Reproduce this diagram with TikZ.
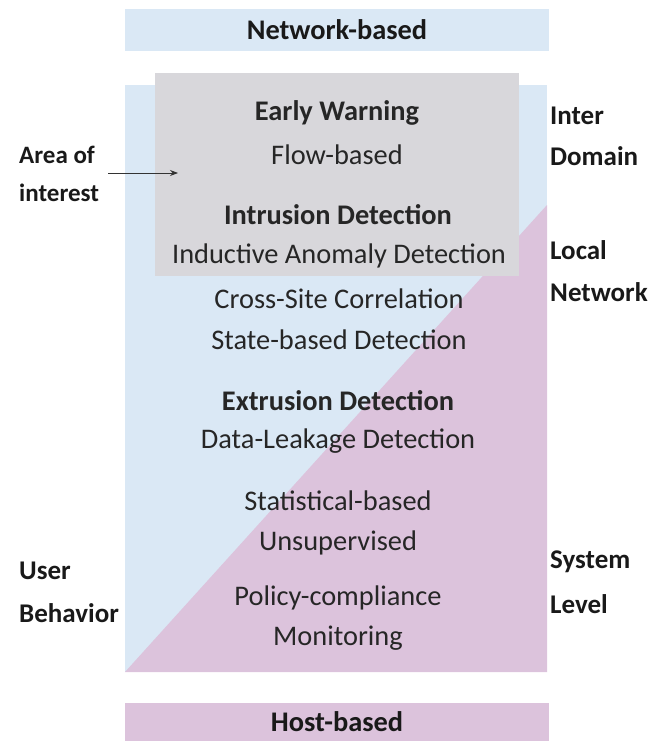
\documentclass[tikz,border=0pt]{standalone}
\usepackage{fontspec}
\setmainfont{Carlito}
\usetikzlibrary{arrows.meta}
\definecolor{netblue}{HTML}{DAE8F5}
\definecolor{hostpink}{HTML}{DCC3DC}
\definecolor{focusgrey}{HTML}{D8D7DB}
\tikzset{
  body/.style={font=\fontsize{28.4}{32}\selectfont, inner sep=0pt, anchor=center, text=black!85},
  head/.style={body, font=\fontsize{28.4}{32}\selectfont\bfseries},
  side/.style={font=\fontsize{27}{32}\selectfont\bfseries, inner sep=0pt, anchor=west, text=black!90},
  smallside/.style={side, font=\fontsize{25}{30}\selectfont\bfseries},
  band/.style={font=\fontsize{28.4}{32}\selectfont\bfseries, inner sep=0pt, text=black!90}
}
\begin{document}
\begin{tikzpicture}[x=1pt,y=-1pt]
\useasboundingbox (0,0) rectangle (657,741);
% top and bottom bands
\fill[netblue] (125,9) rectangle (549,51);
\node[band] (net) at (337,30) {Network-based};
\fill[hostpink] (125,703) rectangle (549,741);
\node[band] (host) at (337,722) {Host-based};
% main field: network part above the diagonal, host part below
\fill[netblue] (125,85) rectangle (547,672);
\fill[hostpink] (125,672) -- (547,205) -- (547,672) -- cycle;
% area of interest
\fill[focusgrey] (155,73) rectangle (519,276);
% text column
\node[head] (ew) at (337,113) {Early Warning};
\node[body] (fb) at (337,155) {Flow-based};
\node[head] (id) at (338,215) {Intrusion Detection};
\node[body] (iad) at (339,256) {Inductive Anomaly Detection};
\node[body] (csc) at (339,299) {Cross-Site Correlation};
\node[body] (sbd) at (339,340) {State-based Detection};
\node[head] (ed) at (338,401) {Extrusion Detection};
\node[body] (dld) at (338,441) {Data-Leakage Detection};
\node[body] (sb) at (338,501) {Statistical-based};
\node[body] (us) at (338,543) {Unsupervised};
\node[body] (pc) at (338,598) {Policy-compliance};
\node[body] (mo) at (338,638) {Monitoring};
% side labels
\node[smallside] (aoi1) at (19,155) {Area of};
\node[smallside] (aoi2) at (19,193) {interest};
\coordinate (aoiend) at (178,173);
\draw[-{Stealth[length=8pt,width=6pt]}, thick, black!80] (108,173) -- (aoiend);
\node[side] (id1) at (550,116) {Inter};
\node[side] (id2) at (550,156) {Domain};
\node[side] (ln1) at (550,250) {Local};
\node[side] (ln2) at (550,292) {Network};
\node[side] (ub1) at (19,571) {User};
\node[side] (ub2) at (19,613) {Behavior};
\node[side] (sl1) at (550,562) {System};
\node[side] (sl2) at (550,604) {Level};
\end{tikzpicture}
\end{document}
